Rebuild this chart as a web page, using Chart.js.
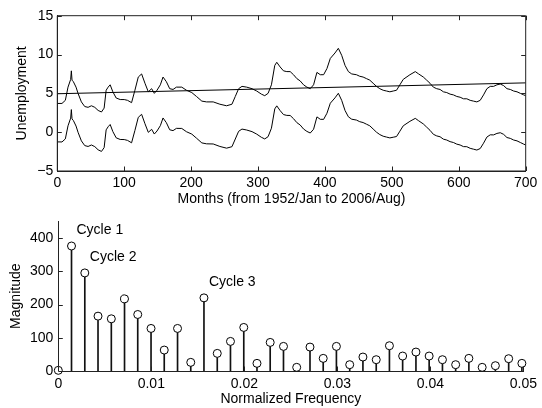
<!DOCTYPE html>
<html>
<head>
<meta charset="utf-8">
<script src="https://cdn.jsdelivr.net/npm/chart.js@4.4.1/dist/chart.umd.min.js"></script>
<style>
  html, body { margin: 0; padding: 0; background: #fff; }
  #wrap { position: relative; width: 542px; height: 408px; }
  #top, #bottom { position: absolute; left: 0; }
  #top { top: 0; }
  #bottom { top: 208px; }
</style>
</head>
<body>
<div id="wrap">
  <canvas id="top" width="542" height="208"></canvas>
  <canvas id="bottom" width="542" height="200"></canvas>
</div>
<script>
// --- top panel: unemployment series
const months = [
  0, 7, 12, 16, 20, 21, 22, 24, 28, 31,
  36, 41, 46, 51, 56, 61, 66, 70, 73, 76,
  79, 83, 88, 94, 100, 105, 111, 116, 121, 126,
  131, 136, 141, 145, 149, 154, 158, 163, 168, 173,
  178, 186, 193, 201, 208, 216, 223, 233, 243, 253,
  261, 266, 271, 276, 283, 291, 298, 305, 310, 315,
  320, 325, 328, 333, 338, 343, 348, 353, 358, 363,
  368, 373, 378, 383, 388, 393, 398, 403, 408, 415,
  420, 425, 430, 435, 440, 447, 452, 457, 462, 467,
  472, 477, 482, 487, 492, 497, 502, 507, 512, 517,
  527, 535, 540, 547, 552, 557, 562, 567, 572, 577,
  582, 587, 592, 597, 602, 607, 612, 617, 622, 627,
  632, 637, 642, 647, 652, 657, 662, 667, 672, 677,
  682, 687, 692, 697, 700
];
const unemployment = [
  3.7, 3.7, 4.1, 5.8, 6.8, 7.9, 6.7, 6.5, 5.8, 5.0,
  3.9, 3.3, 3.2, 3.4, 3.2, 2.8, 2.6, 3.1, 5.4, 5.8,
  6.1, 5.2, 4.4, 4.2, 4.2, 4.1, 3.8, 5.4, 7.1, 7.5,
  6.3, 5.2, 5.6, 5.0, 5.4, 6.1, 7.1, 6.5, 5.6, 5.5,
  5.8, 5.8, 5.4, 5.1, 4.6, 4.0, 3.9, 3.9, 3.6, 3.4,
  3.6, 4.6, 5.6, 5.9, 5.8, 5.6, 5.3, 4.9, 4.7, 5.0,
  6.1, 8.6, 9.0, 8.4, 7.9, 7.8, 7.8, 7.4, 6.9, 6.6,
  6.1, 5.8, 5.6, 6.1, 7.7, 7.4, 7.4, 8.2, 9.5, 10.2,
  10.8, 9.9, 8.6, 7.8, 7.5, 7.4, 7.2, 7.1, 6.9, 6.7,
  6.3, 5.9, 5.6, 5.4, 5.3, 5.2, 5.3, 5.4, 6.1, 6.8,
  7.4, 7.8, 7.5, 7.1, 6.7, 6.3, 5.8, 5.6, 5.5, 5.2,
  5.1, 4.9, 4.8, 4.6, 4.5, 4.3, 4.3, 4.1, 4.0, 3.9,
  4.1, 4.8, 5.6, 5.9, 5.9, 6.1, 6.2, 6.0, 5.6, 5.5,
  5.3, 5.2, 5.0, 4.8, 4.7
];
const detrended = [
  -1.25, -1.26, -0.87, 0.82, 1.81, 2.91, 1.71, 1.50, 0.79, -0.01,
  -1.12, -1.73, -1.84, -1.65, -1.86, -2.27, -2.48, -1.99, 0.30, 0.70,
  0.99, 0.08, -0.73, -0.94, -0.95, -1.06, -1.37, 0.22, 1.91, 2.30,
  1.09, -0.02, 0.37, -0.24, 0.15, 0.84, 1.83, 1.22, 0.31, 0.20,
  0.49, 0.48, 0.06, -0.25, -0.77, -1.38, -1.50, -1.52, -1.84, -2.06,
  -1.87, -0.88, 0.11, 0.40, 0.28, 0.07, -0.25, -0.66, -0.87, -0.58,
  0.51, 3.00, 3.39, 2.78, 2.27, 2.16, 2.15, 1.74, 1.23, 0.92,
  0.41, 0.10, -0.11, 0.38, 1.97, 1.66, 1.65, 2.44, 3.73, 4.42,
  5.01, 4.10, 2.79, 1.98, 1.67, 1.56, 1.35, 1.24, 1.03, 0.82,
  0.41, 0.00, -0.31, -0.52, -0.63, -0.74, -0.65, -0.56, 0.13, 0.82,
  1.40, 1.78, 1.47, 1.06, 0.65, 0.24, -0.27, -0.48, -0.59, -0.90,
  -1.01, -1.22, -1.33, -1.54, -1.65, -1.86, -1.87, -2.08, -2.19, -2.30,
  -2.11, -1.42, -0.63, -0.34, -0.35, -0.16, -0.07, -0.28, -0.69, -0.80,
  -1.01, -1.12, -1.33, -1.54, -1.65
];
const trendMonths = [0, 700];
const trendValues = [4.95, 6.35];
const monthTicks = [0, 100, 200, 300, 400, 500, 600, 700];
const unempTicks = [-5, 0, 5, 10, 15];

// --- bottom panel: spectrum magnitude
const freqs = [
  0, 0.00142, 0.00285, 0.00427, 0.0057, 0.00712, 0.00854, 0.00997, 0.01139, 0.01282,
  0.01424, 0.01566, 0.01709, 0.01851, 0.01994, 0.02136, 0.02278, 0.02421, 0.02563, 0.02706,
  0.02848, 0.0299, 0.03133, 0.03275, 0.03418, 0.0356, 0.03702, 0.03845, 0.03987, 0.0413,
  0.04272, 0.04414, 0.04557, 0.04699, 0.04842, 0.04984
];
const magnitude = [
  2, 376, 295, 165, 157, 217, 170, 128, 63, 128,
  26, 220, 53, 89, 131, 23, 86, 74, 11, 72,
  38, 74, 19, 42, 34, 76, 45, 57, 45, 34,
  19, 38, 11, 16, 37, 23
];
const freqTicks = [0, 0.01, 0.02, 0.03, 0.04, 0.05];
const magTicks = [0, 100, 200, 300, 400];
const cycleLabels = ['Cycle 1', 'Cycle 2', 'Cycle 3'];
const cycleIndex = [1, 2, 11];

Chart.defaults.font.family = '"Liberation Sans", Arial, sans-serif';
Chart.defaults.font.size = 14;
Chart.defaults.color = '#000';

const pts = (xs, ys) => xs.map((x, i) => ({ x: x, y: ys[i] }));
const fixTicks = list => s => { s.ticks = list.map(v => ({ value: v })); };

// matlab style inward ticks (+ optional box)
const matlabAxes = {
  id: 'matlabAxes',
  afterDraw(chart, args, opts) {
    const { ctx, chartArea: a, scales: { x, y } } = chart;
    const len = 4.5;
    ctx.save();
    ctx.strokeStyle = '#222';
    ctx.lineWidth = 1;
    ctx.beginPath();
    x.ticks.forEach(t => {
      const px = Math.round(x.getPixelForValue(t.value)) + 0.5;
      ctx.moveTo(px, a.bottom); ctx.lineTo(px, a.bottom - len);
      if (opts.box) { ctx.moveTo(px, a.top); ctx.lineTo(px, a.top + len); }
    });
    y.ticks.forEach(t => {
      const py = Math.round(y.getPixelForValue(t.value)) + 0.5;
      ctx.moveTo(a.left, py); ctx.lineTo(a.left + len, py);
      if (opts.box) { ctx.moveTo(a.right, py); ctx.lineTo(a.right - len, py); }
    });
    if (opts.box) ctx.rect(a.left, a.top, a.right - a.left, a.bottom - a.top);
    ctx.stroke();
    ctx.restore();
  }
};

const cycleText = {
  id: 'cycleText',
  afterDatasetsDraw(chart) {
    const { ctx, scales: { x, y } } = chart;
    ctx.save();
    ctx.font = '14px "Liberation Sans", Arial, sans-serif';
    ctx.fillStyle = '#000';
    ctx.textBaseline = 'middle';
    cycleIndex.forEach((k, i) => {
      ctx.fillText(cycleLabels[i], x.getPixelForValue(freqs[k]) + 5, y.getPixelForValue(magnitude[k]) - 16);
    });
    ctx.restore();
  }
};

const lineSet = data => ({
  data: data, showLine: true, borderColor: '#000', borderWidth: 1,
  pointRadius: 0, tension: 0
});

new Chart(document.getElementById('top'), {
  type: 'scatter',
  data: {
    datasets: [
      lineSet(pts(months, unemployment)),
      lineSet(pts(trendMonths, trendValues)),
      lineSet(pts(months, detrended))
    ]
  },
  options: {
    responsive: false,
    animation: false,
    devicePixelRatio: 1,
    layout: { padding: { left: 14, right: 16.3, top: 15.7, bottom: 0 } },
    plugins: { legend: { display: false }, tooltip: { enabled: false }, matlabAxes: { box: true } },
    scales: {
      x: {
        type: 'linear', min: 0, max: 700,
        afterBuildTicks: fixTicks(monthTicks),
        afterFit: s => { s.height = 37; },
        grid: { display: false, drawTicks: false },
        border: { display: true, color: '#222' },
        ticks: { padding: 4, maxRotation: 0 },
        title: { display: true, text: 'Months (from 1952/Jan to 2006/Aug)', padding: 0 }
      },
      y: {
        min: -5, max: 15,
        afterBuildTicks: fixTicks(unempTicks),
        afterFit: s => { s.width = 43.3; },
        grid: { display: false, drawTicks: false },
        border: { display: true, color: '#222' },
        ticks: { padding: 4, callback: v => String(v).replace('-', '\u2212') },
        title: { display: true, text: 'Unemployment', padding: 0 }
      }
    }
  },
  plugins: [matlabAxes]
});

new Chart(document.getElementById('bottom'), {
  type: 'bar',
  data: {
    datasets: [
      {
        type: 'scatter', data: pts(freqs, magnitude), order: 0, clip: false,
        pointRadius: 4, pointBorderColor: '#000', pointBackgroundColor: '#fff', pointBorderWidth: 1
      },
      {
        type: 'bar', data: pts(freqs, magnitude), order: 1,
        backgroundColor: '#111', borderWidth: 0, barThickness: 1
      }
    ]
  },
  options: {
    responsive: false,
    animation: false,
    devicePixelRatio: 1,
    layout: { padding: { left: 8, right: 16.3, top: 8, bottom: 0 } },
    plugins: { legend: { display: false }, tooltip: { enabled: false }, matlabAxes: { box: false } },
    scales: {
      x: {
        type: 'linear', min: 0, max: 0.05, offset: false,
        afterBuildTicks: fixTicks(freqTicks),
        afterFit: s => { s.height = 37; },
        grid: { display: false, drawTicks: false },
        border: { display: true, color: '#222' },
        ticks: { padding: 5, maxRotation: 0, callback: v => String(v) },
        title: { display: true, text: 'Normalized Frequency', padding: 0 }
      },
      y: {
        min: 0, max: 450,
        afterBuildTicks: fixTicks(magTicks),
        afterFit: s => { s.width = 50.3; },
        grid: { display: false, drawTicks: false },
        border: { display: true, color: '#222' },
        ticks: { padding: 5 },
        title: { display: true, text: 'Magnitude', padding: 0 }
      }
    }
  },
  plugins: [matlabAxes, cycleText]
});
</script>
</body>
</html>
